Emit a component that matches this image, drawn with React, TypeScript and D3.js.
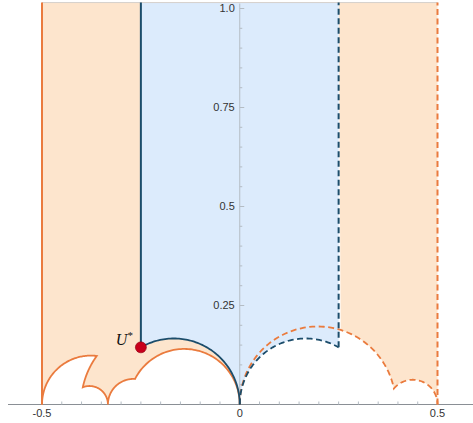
import React from "react";
import * as d3 from "d3";

// strip edges of the domains
const stripEdges = [-0.5, -0.25, 0.25, 0.5];
const yTop = 1.015;

// lower boundary of left orange domain: circles centred on the real axis
const leftArcCenters = [-0.3765, -0.193, -0.38, -0.2687, -0.1403];
const leftArcRadii = [0.1235, 0.2084, 0.0467, 0.0646, 0.1403];

// lower boundary of right orange domain (dashed)
const rightArcCenters = [0.197, 0.4375];
const rightArcRadii = [0.197, 0.0625];

// blue domain floor: |z + 1/6| = 1/6 and |z - 1/6| = 1/6
const blueArcCenters = [-1 / 6, 1 / 6];
const blueArcRadii = [1 / 6, 1 / 6];

const yTicksMajor = [0.25, 0.5, 0.75, 1.0];
const yTickLabels = ["0.25", "0.5", "0.75", "1.0"];
const xTicksMajor = [-0.5, 0, 0.5];
const xTickLabels = ["-0.5", "0", "0.5"];

const W = 473;
const H = 423;

const x = d3.scaleLinear().domain([-0.5, 0.5]).range([42, 437.5]);
const y = d3.scaleLinear().domain([0, 1]).range([404.5, 8.5]);

const ORANGE = "#ea7b3e";
const ORANGE_FILL = "#fde5cd";
const BLUE = "#1c4d6b";
const BLUE_FILL = "#dcebfc";
const AXIS = "#b4bcc4";

type Pt = [number, number];

const circY = (c: number, r: number, px: number) =>
  Math.sqrt(Math.max(0, r * r - (px - c) * (px - c)));

const meet = (c1: number, r1: number, c2: number, r2: number): Pt => {
  const px = (r1 * r1 - r2 * r2 - c1 * c1 + c2 * c2) / (2 * (c2 - c1));
  return [px, circY(c1, r1, px)];
};

// chain of circle arcs from x0 to x1, joined at intersections
function arcChain(cs: number[], rs: number[], x0: number, x1: number): Pt[] {
  const joints: Pt[] = [[x0, circY(cs[0], rs[0], x0)]];
  for (let i = 0; i < cs.length - 1; i++) joints.push(meet(cs[i], rs[i], cs[i + 1], rs[i + 1]));
  const n = cs.length - 1;
  joints.push([x1, circY(cs[n], rs[n], x1)]);
  const pts: Pt[] = [];
  cs.forEach((c, i) => {
    const a0 = Math.atan2(joints[i][1], joints[i][0] - c);
    const a1 = Math.atan2(joints[i + 1][1], joints[i + 1][0] - c);
    for (let k = 0; k <= 80; k++) {
      const a = a0 + ((a1 - a0) * k) / 80;
      pts.push([c + rs[i] * Math.cos(a), rs[i] * Math.sin(a)]);
    }
  });
  return pts;
}

const line = d3
  .line<Pt>()
  .x((d) => x(d[0]))
  .y((d) => y(d[1]));

export default function App() {
  const [e0, e1, e2, e3] = stripEdges;
  const leftChain = arcChain(leftArcCenters, leftArcRadii, e0, 0);
  const rightChain = arcChain(rightArcCenters, rightArcRadii, 0, e3);
  const blueLeft = arcChain([blueArcCenters[0]], [blueArcRadii[0]], e1, 0);
  const blueRight = arcChain([blueArcCenters[1]], [blueArcRadii[1]], 0, e2);
  const uStar: Pt = blueLeft[0];
  const blueRightEnd = blueRight[blueRight.length - 1];

  // right orange starts where x = e2 meets the dashed arc
  const rightFrom = rightChain.filter((p) => p[0] >= e2);

  const leftOrangePoly: Pt[] = [
    [e0, yTop],
    [e1, yTop],
    ...blueLeft,
    ...leftChain.slice().reverse(),
  ];
  const bluePoly: Pt[] = [[e1, yTop], ...blueLeft, ...blueRight, [e2, yTop]];
  const rightOrangePoly: Pt[] = [[e2, yTop], ...rightFrom, [e3, yTop]];

  const yMinor = d3.range(1, 21).map((i) => i * 0.05);
  const xMinor = d3.range(-10, 11).map((i) => i * 0.05);

  return (
    <svg
      width={W}
      height={H}
      style={{ position: "absolute", left: 0, top: 0, background: "#fff" }}
    >
      <path d={line(leftOrangePoly) + "Z"} fill={ORANGE_FILL} />
      <path d={line(rightOrangePoly) + "Z"} fill={ORANGE_FILL} />
      <path d={line(bluePoly) + "Z"} fill={BLUE_FILL} />
      <line x1={x(e0)} x2={x(e3)} y1={y(yTop)} y2={y(yTop)} stroke="#d6d0cc" strokeWidth={1} />

      {/* y axis */}
      <line x1={x(0)} x2={x(0)} y1={y(0)} y2={y(yTop) + 1} stroke={AXIS} strokeWidth={1} />
      {yMinor.map((t) => (
        <line
          key={"ym" + t}
          x1={x(0)}
          x2={x(0) + (Math.abs((t / 0.25) - Math.round(t / 0.25)) < 1e-6 ? 4.5 : 2.5)}
          y1={y(t)}
          y2={y(t)}
          stroke={AXIS}
          strokeWidth={1}
        />
      ))}
      {yTicksMajor.map((t, i) => (
        <text
          key={"yl" + t}
          x={x(0) - 5}
          y={y(t)}
          dy="0.35em"
          textAnchor="end"
          fontFamily="Liberation Sans, Arial, sans-serif"
          fontSize={11}
          fill="#333"
        >
          {yTickLabels[i]}
        </text>
      ))}

      {/* x axis */}
      <line x1={8} x2={W} y1={y(0)} y2={y(0)} stroke="#8a8f95" strokeWidth={1} />
      {xMinor.map((t) => (
        <line
          key={"xm" + t}
          x1={x(t)}
          x2={x(t)}
          y1={y(0)}
          y2={y(0) - (Math.abs(t * 2 - Math.round(t * 2)) < 1e-6 ? 4.5 : 3)}
          stroke={AXIS}
          strokeWidth={1}
        />
      ))}
      {xTicksMajor.map((t, i) => (
        <text
          key={"xl" + t}
          x={x(t)}
          y={y(0) + 12}
          textAnchor="middle"
          fontFamily="Liberation Sans, Arial, sans-serif"
          fontSize={11}
          fill="#333"
        >
          {xTickLabels[i]}
        </text>
      ))}

      {/* boundaries */}
      <path d={line(leftChain) ?? ""} fill="none" stroke={ORANGE} strokeWidth={1.8} />
      <line x1={x(e0)} x2={x(e0)} y1={y(0)} y2={y(yTop)} stroke={ORANGE} strokeWidth={2} />
      <path
        d={line(rightChain) ?? ""}
        fill="none"
        stroke={ORANGE}
        strokeWidth={1.8}
        strokeDasharray="6,3.5"
      />
      <line
        x1={x(e3)}
        x2={x(e3)}
        y1={y(0)}
        y2={y(yTop)}
        stroke={ORANGE}
        strokeWidth={2}
        strokeDasharray="6,3.5"
      />
      <path d={line(blueLeft) ?? ""} fill="none" stroke={BLUE} strokeWidth={1.8} />
      <line x1={x(e1)} x2={x(e1)} y1={y(uStar[1])} y2={y(yTop)} stroke={BLUE} strokeWidth={2} />
      <path
        d={line(blueRight) ?? ""}
        fill="none"
        stroke={BLUE}
        strokeWidth={1.8}
        strokeDasharray="6,3.5"
      />
      <line
        x1={x(e2)}
        x2={x(e2)}
        y1={y(blueRightEnd[1])}
        y2={y(yTop)}
        stroke={BLUE}
        strokeWidth={2}
        strokeDasharray="6,3.5"
      />

      {/* U* point */}
      <circle cx={x(uStar[0])} cy={y(uStar[1])} r={5.5} fill="#c8001c" stroke="#8a0010" strokeWidth={0.6} />
      <text
        x={x(uStar[0]) - 8}
        y={y(uStar[1]) - 2}
        textAnchor="end"
        fontFamily="Liberation Serif, Times New Roman, serif"
        fontStyle="italic"
        fontSize={16}
        fill="#111"
      >
        U
        <tspan fontSize={11} dy={-6} fontStyle="normal">
          *
        </tspan>
      </text>
    </svg>
  );
}
